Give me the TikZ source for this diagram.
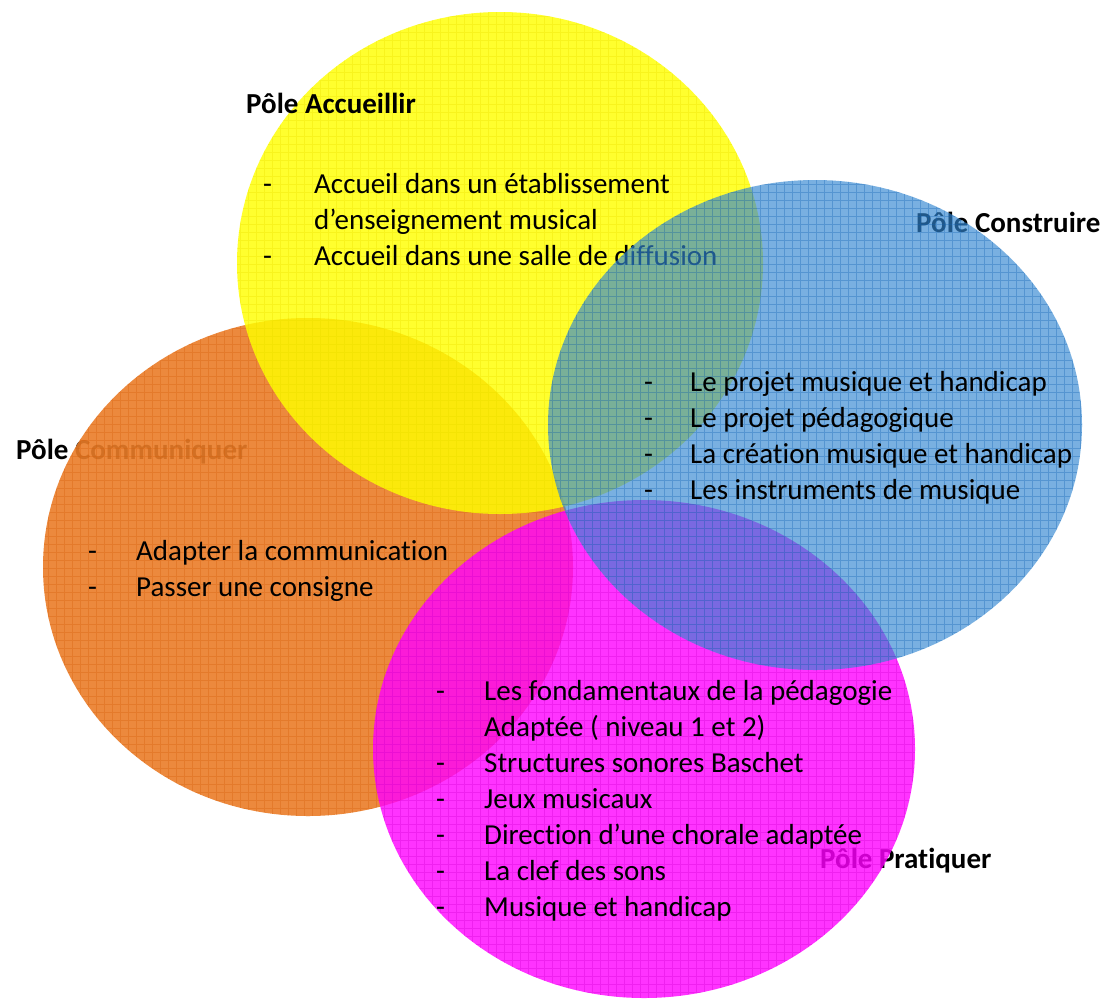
\documentclass[tikz,border=0pt]{standalone}
\usepackage{fontspec}
\setmainfont{Carlito}[Ligatures=NoCommon]
\begin{document}
\begin{tikzpicture}[x=1pt,y=-1pt,
  body/.style={anchor=base west,inner sep=0pt,font=\fontsize{29}{36}\selectfont},
  head/.style={anchor=base west,inner sep=0pt,font=\fontsize{29}{36}\selectfont\bfseries},
  dsh/.style={anchor=base west,inner sep=0pt,font=\fontsize{29}{36}\selectfont},
  hatch/.style={line width=1pt,draw opacity=0.35,step=8pt}]
\definecolor{cyel}{RGB}{255,255,0}
\definecolor{cyelL}{RGB}{235,225,0}
\definecolor{cora}{RGB}{235,125,40}
\definecolor{coraL}{RGB}{215,95,10}
\definecolor{cmag}{RGB}{255,0,255}
\definecolor{cmagL}{RGB}{210,0,210}
\definecolor{cblu}{RGB}{50,135,210}
\definecolor{cbluL}{RGB}{20,100,180}
\useasboundingbox (0,0) rectangle (1108,999);
\fill[white] (0,0) rectangle (1108,999);
% headers (under the shapes)
\node[head] (hC) at (916,232) {Pôle Construire};
\node[head] (hM) at (16,459) {Pôle Communiquer};
\node[head] (hP) at (820,868) {Pôle Pratiquer};
% orange
\fill[cora,fill opacity=0.9] (308,567) ellipse [x radius=265,y radius=249];
\begin{scope}
\clip (308,567) ellipse [x radius=265,y radius=249];
\draw[hatch,coraL] (40,315) grid (576,820);
\end{scope}
% yellow
\fill[cyel,fill opacity=0.82] (500,263) ellipse [x radius=263,y radius=251];
\begin{scope}
\clip (500,263) ellipse [x radius=263,y radius=251];
\draw[hatch,cyelL] (234,8) grid (766,518);
\end{scope}
\node[head] (hA) at (246,113) {Pôle Accueillir};
% yellow list
\node[dsh] (ya) at (263,193) {-};
\node[body] (y1) at (314,193) {Accueil dans un établissement};
\node[body] (y2) at (314,229) {d’enseignement musical};
\node[dsh] (yb) at (263,265) {-};
\node[body] (y3) at (314,265) {Accueil dans une salle de diffusion};
% magenta
\fill[cmag,fill opacity=0.8] (644,749) ellipse [x radius=271,y radius=249];
\begin{scope}
\clip (644,749) ellipse [x radius=271,y radius=249];
\draw[hatch,cmagL] (370,496) grid (918,1000);
\end{scope}
% blue
\fill[cblu,fill opacity=0.65] (815,425) ellipse [x radius=267,y radius=245];
\begin{scope}
\clip (815,425) ellipse [x radius=267,y radius=245];
\draw[hatch,cbluL] (544,176) grid (1086,672);
\end{scope}
% blue list
\node[dsh] (ba) at (644,391) {-};
\node[body] (b1) at (690,391) {Le projet musique et handicap};
\node[dsh] (bb) at (644,427) {-};
\node[body] (b2) at (690,427) {Le projet pédagogique};
\node[dsh] (bc) at (644,463) {-};
\node[body] (b3) at (690,463) {La création musique et handicap};
\node[dsh] (bd) at (644,499) {-};
\node[body] (b4) at (690,499) {Les instruments de musique};
% orange list
\node[dsh] (oa) at (88,560) {-};
\node[body] (o1) at (136,560) {Adapter la communication};
\node[dsh] (ob) at (88,596) {-};
\node[body] (o2) at (136,596) {Passer une consigne};
% magenta list
\node[dsh] (ma) at (436,700) {-};
\node[body] (m1) at (484,700) {Les fondamentaux de la pédagogie};
\node[body] (m2) at (484,736) {Adaptée ( niveau 1 et 2)};
\node[dsh] (mb) at (436,772) {-};
\node[body] (m3) at (484,772) {Structures sonores Baschet};
\node[dsh] (mc) at (436,808) {-};
\node[body] (m4) at (484,808) {Jeux musicaux};
\node[dsh] (md) at (436,844) {-};
\node[body] (m5) at (484,844) {Direction d’une chorale adaptée};
\node[dsh] (me) at (436,880) {-};
\node[body] (m6) at (484,880) {La clef des sons};
\node[dsh] (mf) at (436,916) {-};
\node[body] (m7) at (484,916) {Musique et handicap};
\end{tikzpicture}
\end{document}
